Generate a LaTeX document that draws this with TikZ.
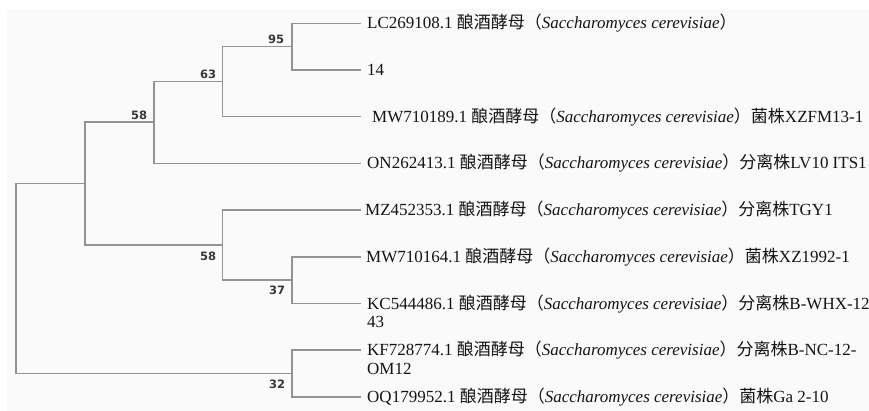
\documentclass[tikz,border=0pt]{standalone}
\usepackage{fontspec}
\setmainfont{Liberation Serif}
\newfontfamily\cjkfont{Noto Sans CJK SC}
\newfontfamily\bootfont{DejaVu Sans}
\definecolor{branchcol}{RGB}{150,146,146}
\definecolor{bgcol}{RGB}{250,250,250}
\definecolor{bootcol}{RGB}{56,56,56}
\definecolor{leafcol}{RGB}{20,20,20}
\newcommand{\yeast}{{\cjkfont 酿酒酵母（}\textit{Saccharomyces cerevisiae}{\cjkfont ）}}
\newcommand{\cj}[1]{{\cjkfont #1}}
\tikzset{
  branch/.style={draw=branchcol, line width=1.5pt, line join=miter},
  leaflabel/.style={anchor=base west, inner sep=0pt, text=leafcol, font=\fontsize{17}{19}\selectfont},
  bootlabel/.style={anchor=center, inner sep=0pt, text=bootcol, font=\bootfont\bfseries\fontsize{11.5}{13}\selectfont}
}
\begin{document}
\begin{tikzpicture}[x=1pt,y=-1pt]
\useasboundingbox (0,0) rectangle (869,411);
\fill[white] (0,0) rectangle (869,411);
\fill[bgcol] (7,9) rectangle (869,411);

% internal nodes
\coordinate (r)  at (16,278.6);
\coordinate (n1) at (85,183.6);
\coordinate (n2) at (154,122);
\coordinate (n3) at (222.7,81.7);
\coordinate (n4) at (292,46.7);
\coordinate (n5) at (222.7,245);
\coordinate (n6) at (292,280.1);
\coordinate (n7) at (292,373.6);

% leaf ends
\coordinate (L1) at (361,23.3);
\coordinate (L2) at (361,70);
\coordinate (L3) at (361,116.7);
\coordinate (L4) at (361,163.4);
\coordinate (L5) at (361,210.1);
\coordinate (L6) at (361,256.8);
\coordinate (L7) at (361,303.5);
\coordinate (L8) at (361,350.2);
\coordinate (L9) at (361,396.9);

% branches
\draw[branch] (r) |- (n1);
\draw[branch] (r) |- (n7);
\draw[branch] (n1) |- (n2);
\draw[branch] (n1) |- (n5);
\draw[branch] (n2) |- (n3);
\draw[branch] (n2) |- (L4);
\draw[branch] (n3) |- (n4);
\draw[branch] (n3) |- (L3);
\draw[branch] (n4) |- (L1);
\draw[branch] (n4) |- (L2);
\draw[branch] (n5) |- (L5);
\draw[branch] (n5) |- (n6);
\draw[branch] (n6) |- (L6);
\draw[branch] (n6) |- (L7);
\draw[branch] (n7) |- (L8);
\draw[branch] (n7) |- (L9);

% bootstrap values
\node[bootlabel] (b95) at (276,39) {95};
\node[bootlabel] (b63) at (208,74.5) {63};
\node[bootlabel] (b58a) at (139,115.5) {58};
\node[bootlabel] (b58b) at (208,256) {58};
\node[bootlabel] (b37) at (277,290.5) {37};
\node[bootlabel] (b32) at (277,384) {32};

% leaf labels
\node[leaflabel] (t1) at (367,28.8) {LC269108.1 \yeast};
\node[leaflabel] (t2) at (367,75.5) {14};
\node[leaflabel] (t3) at (372,122.2) {MW710189.1 \yeast\cj{菌株}XZFM13-1};
\node[leaflabel] (t4) at (367,168.9) {ON262413.1 \yeast\cj{分离株}LV10 ITS1};
\node[leaflabel] (t5) at (365,215.6) {MZ452353.1 \yeast\cj{分离株}TGY1};
\node[leaflabel] (t6) at (366,262.3) {MW710164.1 \yeast\cj{菌株}XZ1992-1};
\node[leaflabel] (t7) at (367,309) {KC544486.1 \yeast\cj{分离株}B-WHX-12-};
\node[leaflabel] (t7b) at (367,327.5) {43};
\node[leaflabel] (t8) at (367,355.7) {KF728774.1 \yeast\cj{分离株}B-NC-12-};
\node[leaflabel] (t8b) at (367,374.2) {OM12};
\node[leaflabel] (t9) at (367,402.4) {OQ179952.1 \yeast\cj{菌株}Ga 2-10};
\end{tikzpicture}
\end{document}
